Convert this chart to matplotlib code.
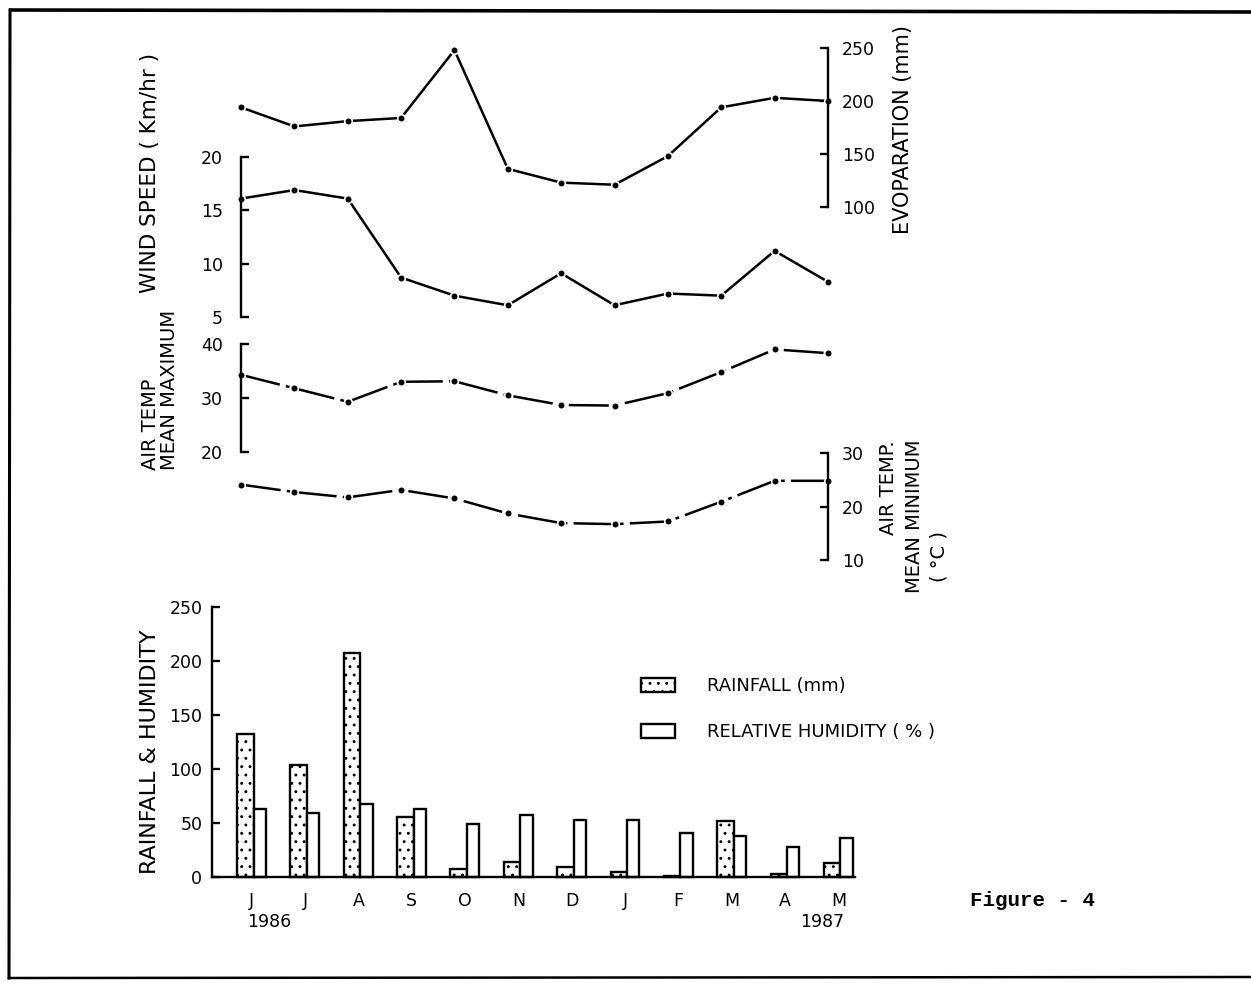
import matplotlib
matplotlib.use("Agg")
import matplotlib.pyplot as plt
from matplotlib.lines import Line2D
import numpy as np

# ---------------- data ----------------
months = ["J", "J", "A", "S", "O", "N", "D", "J", "F", "M", "A", "M"]
years = ["1986", "1987"]
evaporation = [194, 176, 181, 184, 248, 136, 123, 121, 148, 194, 203, 200]
wind_speed = [16.1, 16.9, 16.1, 8.7, 7.0, 6.1, 9.1, 6.1, 7.2, 7.0, 11.2, 8.3]
temp_max = [34.3, 31.8, 29.3, 33.0, 33.1, 30.5, 28.7, 28.6, 30.9, 34.8, 39.0, 38.3]
temp_min = [24.1, 22.7, 21.7, 23.1, 21.5, 18.7, 16.9, 16.7, 17.2, 20.9, 24.8, 24.8]
rainfall = [132, 104, 207, 56, 7, 14, 9, 5, 1, 52, 3, 13]
humidity = [63, 59, 68, 63, 49, 57, 53, 53, 41, 38, 27.5, 36]

evap_ticks = [100, 150, 200, 250]
wind_ticks = [5, 10, 15, 20]
tmax_ticks = [20, 30, 40]
tmin_ticks = [10, 20, 30]
bar_ticks = [0, 50, 100, 150, 200, 250]

# ---------------- layout helpers ----------------
W, H = 1251, 983
DPI = 100
plt.rcParams["font.family"] = ["DejaVu Sans"]
plt.rcParams["hatch.linewidth"] = 0.9
fig = plt.figure(figsize=(W / DPI, H / DPI), dpi=DPI)
fig.patch.set_facecolor("white")

X0_PX = 241.0     # pixel x of first month
UNIT_PX = 53.36   # pixels per month


def fx(px):
    return px / W


def fy(py):
    return 1 - py / H


def make_axes(v_a, py_a, v_b, py_b):
    ax = fig.add_axes([0, 0, 1, 1])
    ax.patch.set_alpha(0)
    ax.set_xlim(-X0_PX / UNIT_PX, (W - X0_PX) / UNIT_PX)
    s = (v_a - v_b) / (py_b - py_a)
    ax.set_ylim(v_a - (H - py_a) * s, v_a + py_a * s)
    for sp in ax.spines.values():
        sp.set_visible(False)
    ax.set_xticks([])
    return ax


def bracket(ax, side, xpos, lo, hi, ticks, pad):
    sp = ax.spines[side]
    sp.set_visible(True)
    sp.set_position(("data", xpos))
    sp.set_bounds(lo, hi)
    sp.set_linewidth(1.7)
    if side == "right":
        ax.yaxis.tick_right()
    else:
        ax.yaxis.tick_left()
    ax.set_yticks(ticks)
    ax.set_yticklabels([str(t) for t in ticks])
    ax.tick_params(axis="y", direction="in", length=6, width=1.7,
                   pad=pad, labelsize=12.5)


x = np.arange(len(months))
line_kw = dict(color="black", lw=1.8, marker="o", ms=5.5, mfc="black",
               mec="white", mew=1.2, solid_joinstyle="round")
dashdot = (0, (16, 2.5, 1.5, 2.5))

# Evaporation (right axis)
ax_ev = make_axes(250, 48, 100, 207)
ax_ev.plot(x, evaporation, **line_kw)
bracket(ax_ev, "right", 11, 100, 250, evap_ticks, 10)

# Wind speed (left axis)
ax_ws = make_axes(20, 157, 5, 317)
ax_ws.plot(x, wind_speed, **line_kw)
bracket(ax_ws, "left", 0, 5, 20, wind_ticks, 13)

# Air temp mean maximum (left axis)
ax_tx = make_axes(40, 344, 20, 452)
ax_tx.plot(x, temp_max, ls=dashdot, **line_kw)
bracket(ax_tx, "left", 0, 20, 40, tmax_ticks, 13)

# Air temp mean minimum (right axis)
ax_tn = make_axes(30, 453, 10, 560)
ax_tn.plot(x, temp_min, ls=dashdot, **line_kw)
bracket(ax_tn, "right", 11, 10, 30, tmin_ticks, 10)

# Rainfall & humidity bars
ax_b = make_axes(250, 607, 0, 877)
left_x = (212 - X0_PX) / UNIT_PX
b1 = ax_b.bar(x - 0.075, rainfall, width=0.31, align="edge", facecolor="white",
              edgecolor="black", linewidth=1.7, hatch="..", label="RAINFALL (mm)")
b2 = ax_b.bar(x + 0.235, humidity, width=0.23, align="edge", facecolor="white",
              edgecolor="black", linewidth=1.7, label="RELATIVE HUMIDITY ( % )")
bracket(ax_b, "left", left_x, 0, 250, bar_ticks, 7)
sp = ax_b.spines["bottom"]
sp.set_visible(True)
sp.set_position(("data", 0))
sp.set_bounds(left_x, 11.5)
sp.set_linewidth(1.7)
ax_b.set_xticks(x + 0.2)
ax_b.set_xticklabels(months, fontsize=12.5)
ax_b.tick_params(axis="x", length=0, pad=11)

leg = ax_b.legend(handles=[b1, b2], loc="upper left",
                  bbox_to_anchor=(fx(641), fy(677)), bbox_transform=fig.transFigure,
                  frameon=False, fontsize=13, handlelength=1.9, handleheight=0.85,
                  handletextpad=1.75, labelspacing=1.55, borderpad=0, borderaxespad=0)

# ---------------- axis titles and texts ----------------
title_kw = dict(rotation=90, color="black")
fig.text(fx(150), fy(173), "WIND SPEED ( Km/hr )", ha="center", va="center",
         fontsize=15.5, **title_kw)
fig.text(fx(903), fy(130), "EVOPARATION (mm)", ha="center", va="center",
         fontsize=15, **title_kw)
fig.text(fx(160), fy(470), "AIR TEMP\nMEAN MAXIMUM", ha="center", va="bottom",
         multialignment="left", linespacing=1.0, fontsize=14, **title_kw)
fig.text(fx(889), fy(488), "AIR TEMP.", ha="center", va="center", fontsize=14, **title_kw)
fig.text(fx(914), fy(516), "MEAN MINIMUM", ha="center", va="center", fontsize=14, **title_kw)
fig.text(fx(939), fy(556), "( °C )", ha="center", va="center", fontsize=14, **title_kw)
fig.text(fx(150), fy(752), "RAINFALL & HUMIDITY", ha="center", va="center",
         fontsize=16, **title_kw)

fig.text(fx(269), fy(922), years[0], ha="center", va="center", fontsize=12.5)
fig.text(fx(822), fy(922), years[1], ha="center", va="center", fontsize=12.5)
fig.text(fx(1033), fy(901), "Figure - 4", ha="center", va="center", fontsize=15,
         family="Liberation Mono", fontweight="bold")

# ---------------- page border ----------------
for (xa, ya, xb, yb, lw) in [(11, 10, 1251, 12, 2.6),
                             (10, 10, 9, 978, 2.2),
                             (9, 978, 1251, 977, 1.8)]:
    fig.add_artist(Line2D([fx(xa), fx(xb)], [fy(ya), fy(yb)], color="black",
                          lw=lw, transform=fig.transFigure))

fig.savefig("out.png", dpi=DPI)
